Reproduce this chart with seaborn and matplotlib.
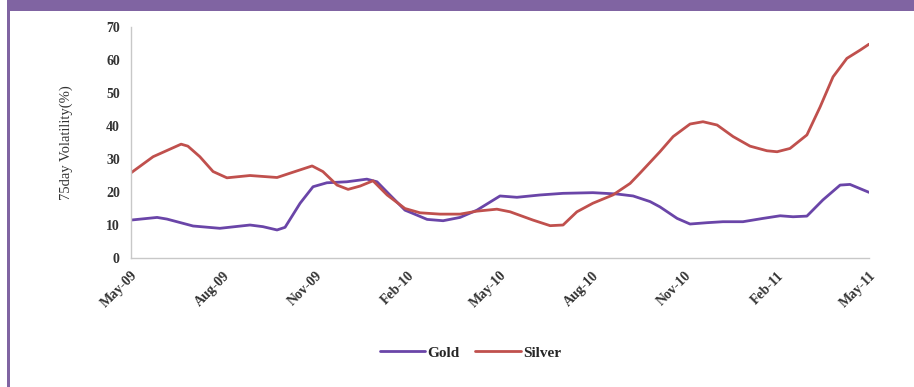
import numpy as np
import pandas as pd
import seaborn as sns
import matplotlib
matplotlib.use("Agg")
import matplotlib.pyplot as plt
from matplotlib.patches import Rectangle

# months since May-09
gold_m = [0, 0.85, 1.17, 2.02, 2.89, 3.87, 4.29, 4.75, 5.01, 5.5, 5.92, 6.37, 7.02, 7.67, 8.0,
          8.42, 8.91, 9.17, 9.63, 10.15, 10.7, 11.25, 12.0, 12.55, 13.3, 14.05, 15.02, 15.8,
          16.33, 16.88, 17.2, 17.76, 18.18, 18.73, 19.25, 19.9, 20.55, 21.11, 21.53, 21.98,
          22.5, 23.06, 23.38, 24.0]
gold_v = [11.5, 12.3, 11.8, 9.7, 9.0, 10.0, 9.5, 8.5, 9.3, 16.6, 21.6, 22.8, 23.1, 23.9, 23.1,
          19.1, 14.5, 13.5, 11.7, 11.3, 12.3, 14.5, 18.8, 18.4, 19.1, 19.6, 19.8, 19.4,
          18.8, 17.1, 15.5, 12.0, 10.3, 10.7, 11.0, 11.0, 12.0, 12.8, 12.5, 12.7,
          17.6, 22.1, 22.3, 19.9]

silver_m = [0, 0.72, 1.63, 1.85, 2.24, 2.67, 3.12, 3.87, 4.75, 5.17, 5.89, 6.24, 6.7, 7.06,
            7.45, 7.87, 8.33, 8.91, 9.4, 10.05, 10.7, 11.25, 11.9, 12.33, 13.07, 13.63, 14.05,
            14.5, 15.02, 15.67, 16.23, 16.55, 17.2, 17.63, 18.18, 18.6, 19.06, 19.58, 20.13,
            20.68, 21.01, 21.43, 21.98, 22.41, 22.83, 23.28, 23.71, 24.0]
silver_v = [25.8, 30.7, 34.5, 33.9, 30.7, 26.2, 24.3, 25.0, 24.4, 25.7, 27.9, 26.2, 22.1, 20.8,
            21.8, 23.4, 19.1, 15.0, 13.7, 13.3, 13.3, 14.2, 14.8, 14.0, 11.5, 9.8, 10.0,
            14.0, 16.6, 19.1, 22.6, 25.7, 32.2, 36.8, 40.6, 41.3, 40.3, 36.8, 33.9,
            32.5, 32.2, 33.2, 37.3, 45.8, 54.9, 60.5, 63.0, 64.8]

tick_labels = ["May-09", "Aug-09", "Nov-09", "Feb-10", "May-10", "Aug-10", "Nov-10", "Feb-11", "May-11"]

df = pd.concat([
    pd.DataFrame({"month": gold_m, "vol": gold_v, "metal": "Gold"}),
    pd.DataFrame({"month": silver_m, "vol": silver_v, "metal": "Silver"}),
])

sns.set_style("white")
plt.rcParams["font.family"] = ["Liberation Serif", "DejaVu Serif"]

fig = plt.figure(figsize=(9.14, 3.87), dpi=100)
ax = fig.add_axes([0.1433, 0.3333, 0.8075, 0.5969])

sns.lineplot(data=df, x="month", y="vol", hue="metal", sort=False,
             palette={"Gold": "#6A45A8", "Silver": "#C0504D"}, linewidth=2.0, ax=ax,
             estimator=None)

ax.set_xlim(0, 24)
ax.set_ylim(0, 70)
ax.set_xticks(np.arange(0, 25, 3))
ax.set_xticklabels(tick_labels, rotation=45, ha="right", rotation_mode="anchor",
                   fontsize=10, fontweight="bold", color="#333333")
ax.set_yticks(np.arange(0, 71, 10))
ax.set_yticklabels([str(v) for v in range(0, 71, 10)], fontsize=10, fontweight="bold", color="#333333")
ax.tick_params(axis="both", direction="out", length=3, color="#BBBBBB", pad=5)
ax.set_xlabel("")
ax.set_ylabel("75day Volatility(%)", fontsize=10.5, color="#333333", labelpad=24)

for s in ["top", "right"]:
    ax.spines[s].set_visible(False)
for s in ["left", "bottom"]:
    ax.spines[s].set_color("#C8C8C8")
    ax.spines[s].set_linewidth(1.0)

ax.legend(title=None, loc="center", bbox_to_anchor=(0.46, -0.41), ncol=2, frameon=False,
          prop={"family": "Liberation Serif", "weight": "bold", "size": 11},
          handlelength=3.0, handletextpad=0.15, columnspacing=1.0)

# purple frame: band on top, thin strip on the left
fig.patches.append(Rectangle((7 / 914, 1 - 11 / 387), 1, 11 / 387, transform=fig.transFigure,
                             facecolor="#8064A2", edgecolor="none"))
fig.patches.append(Rectangle((7 / 914, 0), 2.5 / 914, 1, transform=fig.transFigure,
                             facecolor="#8064A2", edgecolor="none"))

fig.savefig("out.png", dpi=100)
